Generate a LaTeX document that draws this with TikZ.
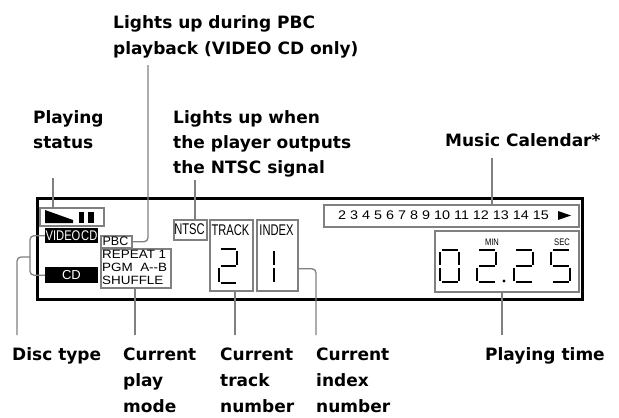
\documentclass[tikz,border=0pt]{standalone}
\usepackage{fontspec}
\setmainfont{DejaVu Sans}
\newfontfamily\lcd{Liberation Sans}
\newcommand\lcddigit[5]{%
  \begin{scope}[shift={(#1,#2)}]
    \def\dw{#3}\def\dh{#4}%
    #5
  \end{scope}}
\newcommand\sgA{\draw[seg] (1.5,0) -- (\dw-1.5,0);}
\newcommand\sgB{\draw[seg] (\dw,1.5) -- (\dw,\dh/2-1.5);}
\newcommand\sgC{\draw[seg] (\dw,\dh/2+1.5) -- (\dw,\dh-1.5);}
\newcommand\sgD{\draw[seg] (1.5,\dh) -- (\dw-1.5,\dh);}
\newcommand\sgE{\draw[seg] (0,\dh/2+1.5) -- (0,\dh-1.5);}
\newcommand\sgF{\draw[seg] (0,1.5) -- (0,\dh/2-1.5);}
\newcommand\sgG{\draw[seg] (1.5,\dh/2) -- (\dw-1.5,\dh/2);}
\begin{document}
\begin{tikzpicture}[x=1pt,y=-1pt,
  lbl/.style={font=\fontsize{17}{25}\selectfont\bfseries, align=left, anchor=base west, inner sep=0pt},
  lead/.style={draw=black!50, line width=1.3pt, rounded corners=4pt},
  gbox/.style={draw=black!50, line width=1.5pt, fill=white, inner sep=0pt, anchor=north west},
  bbox/.style={fill=black, inner sep=0pt, anchor=north west, text=white},
  seg/.style={line width=2pt},
  lcdtxt/.style={inner sep=0pt}
]
\useasboundingbox (0,0) rectangle (619,418);

% main display frame
\node[draw, line width=3pt, minimum width=545, minimum height=101, inner sep=0pt, anchor=north west] (frame) at (36,197) {};

% indicator boxes
\node[gbox, minimum width=64, minimum height=18] (playbox) at (39,207) {};
\fill (45,210) -- (73,220) -- (73,223) -- (45,223) -- cycle;
\fill (79,212) rectangle (84,223);
\fill (88,212) rectangle (94,223);

\node[bbox, minimum width=53, minimum height=15] (vcdbox) at (45,228) {};
\node[lcdtxt, text=white, font=\lcd\fontsize{14}{14}\selectfont] (vcdtxt) at (71.5,235.5) {\scalebox{0.8}[1]{VIDEO\hspace{1pt}CD}};
\node[bbox, minimum width=53, minimum height=16] (cdbox) at (45,267) {};
\node[lcdtxt, text=white, font=\lcd\fontsize{13}{13}\selectfont] (cdtxt) at (71.5,275) {CD};

\node[gbox, minimum width=31, minimum height=12] (pbcbox) at (100,235) {};
\node[lcdtxt, font=\lcd\fontsize{12.5}{12.5}\selectfont] (pbctxt) at (115.5,241.5) {PBC};

\node[gbox, minimum width=70, minimum height=39] (modebox) at (100,248) {};
\node[lcdtxt, anchor=west, font=\lcd\fontsize{12}{12}\selectfont] (m1) at (102,254) {\scalebox{1.12}[1]{REPEAT 1}};
\node[lcdtxt, anchor=west, font=\lcd\fontsize{12}{12}\selectfont] (m2) at (102,267) {\scalebox{1.12}[1]{PGM\ \ A--B}};
\node[lcdtxt, anchor=west, font=\lcd\fontsize{12}{12}\selectfont] (m3) at (102,280) {\scalebox{1.12}[1]{SHUFFLE}};

\node[gbox, minimum width=33, minimum height=20] (ntscbox) at (173,219) {};
\node[lcdtxt, font=\lcd\fontsize{15.5}{15.5}\selectfont] (ntsctxt) at (189.5,229) {\scalebox{0.72}[1]{NTSC}};

\node[gbox, minimum width=43, minimum height=71] (trackbox) at (209,219) {};
\node[lcdtxt, font=\lcd\fontsize{15.5}{15.5}\selectfont] (tracktxt) at (230.5,230) {\scalebox{0.72}[1]{TRACK}};
\lcddigit{219}{249}{18}{34}{\sgA\sgB\sgG\sgE\sgD}

\node[gbox, minimum width=41, minimum height=71] (indexbox) at (256,219) {};
\node[lcdtxt, font=\lcd\fontsize{15.5}{15.5}\selectfont] (indextxt) at (276.5,230) {\scalebox{0.72}[1]{INDEX}};
\lcddigit{256}{249}{18}{34}{\sgB\sgC}

\node[gbox, minimum width=255, minimum height=22] (calbox) at (323,204) {};
\node[lcdtxt, anchor=west, font=\lcd\fontsize{12.5}{12.5}\selectfont] (caltxt) at (338,215.5) {\scalebox{1.15}[1]{2 3 4 5 6 7 8 9 10 11 12 13 14 15}};
\fill (558,211) -- (571,215.5) -- (558,220) -- cycle;

\node[gbox, minimum width=144, minimum height=61] (timebox) at (434,230) {};
\node[lcdtxt, font=\lcd\fontsize{9.5}{9.5}\selectfont] (mintxt) at (492,242) {\scalebox{0.8}[1]{MIN}};
\node[lcdtxt, font=\lcd\fontsize{9.5}{9.5}\selectfont] (sectxt) at (562,242) {\scalebox{0.8}[1]{SEC}};
\lcddigit{440}{250}{19}{32}{\sgA\sgB\sgC\sgD\sgE\sgF}
\lcddigit{477}{250}{19}{32}{\sgA\sgB\sgG\sgE\sgD}
\fill (504,281) circle (1.7);
\lcddigit{514}{250}{19}{32}{\sgA\sgB\sgG\sgE\sgD}
\lcddigit{551}{250}{19}{32}{\sgA\sgF\sgG\sgC\sgD}

% labels (anchor = baseline of the last line)
\node[lbl] (pbclbl) at (113,54) {Lights up during PBC\\[1pt]playback (VIDEO CD only)};
\node[lbl] (playlbl) at (33,148) {Playing\\status};
\node[lbl] (ntsclbl) at (173,173) {Lights up when\\the player outputs\\the NTSC signal};
\node[lbl] (callbl) at (445,146) {Music Calendar*};
\node[lbl] (disclbl) at (12,360) {Disc type};
\node[lbl] (modelbl) at (123,412) {Current\\[1pt]play\\[1pt]mode};
\node[lbl] (tracklbl) at (220,412) {Current\\[1pt]track\\[1pt]number};
\node[lbl] (indexlbl) at (316,412) {Current\\[1pt]index\\[1pt]number};
\node[lbl] (timelbl) at (485,360) {Playing time};

% leaders
\coordinate (c1) at (53,178);
\draw[lead] (c1) -- (c1 |- playbox.north);
\coordinate (c2) at (148,65);
\draw[lead] (c2) |- (pbcbox.east);
\coordinate (c3) at (195,180);
\draw[lead] (c3) -- (c3 |- ntscbox.north);
\coordinate (c4) at (492,158);
\draw[lead] (c4) -- (c4 |- calbox.north);
\coordinate (bx) at (30,257);
\draw[lead] (vcdbox.west) -| (bx) |- (cdbox.west);
\coordinate (c5) at (17,335);
\draw[lead] (c5) |- (bx);
\coordinate (c6) at (135,335);
\draw[lead] (c6 |- modebox.south) -- (c6);
\coordinate (c7) at (235,335);
\draw[lead] (c7 |- trackbox.south) -- (c7);
\coordinate (c8) at (316,335);
\draw[lead] ([yshift=-13.5pt]indexbox.east) -| (c8);
\coordinate (c9) at (502,335);
\draw[lead] (c9 |- timebox.south) -- (c9);
\end{tikzpicture}
\end{document}
